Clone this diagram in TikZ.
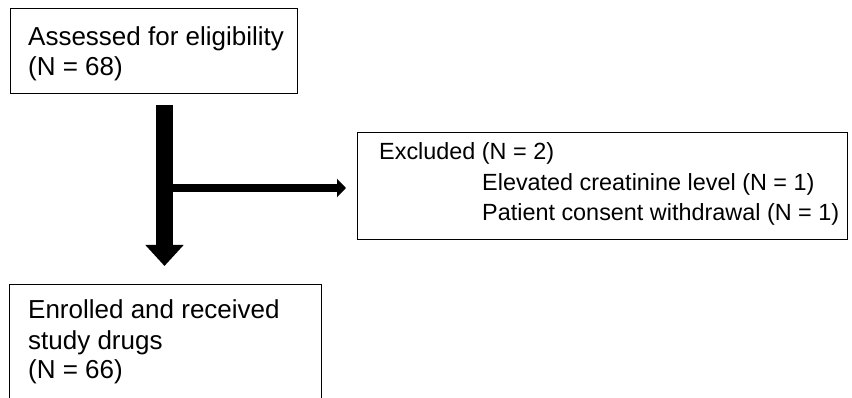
\documentclass[tikz,border=0pt]{standalone}
\usepackage{fontspec}
\setmainfont{Liberation Sans}
\usetikzlibrary{arrows.meta}
\tikzset{
  box/.style={draw=black, line width=1.2pt, inner sep=0pt, anchor=north west},
  txt/.style={anchor=base west, inner sep=0pt, font=\fontsize{26}{30}\selectfont},
  txts/.style={anchor=base west, inner sep=0pt, font=\fontsize{23.4}{28}\selectfont},
  bigarrow/.style={line width=17.5pt, -{Triangle[width=37pt,length=21pt]}},
  sidearrow/.style={line width=7.5pt, -{Triangle[width=18pt,length=9pt]}}
}
\begin{document}
\begin{tikzpicture}[x=1pt,y=-1pt]
\useasboundingbox (0,0) rectangle (852,398);
\clip (0,0) rectangle (852,398);
% boxes
\node[box, minimum width=287pt, minimum height=85pt] (assess) at (10,8) {};
\node[box, minimum width=490pt, minimum height=107pt] (excl) at (357,132) {};
\node[box, minimum width=312pt, minimum height=130pt] (enrol) at (9,284) {};
% texts
\node[txt] (t1) at (28,46) {Assessed for eligibility};
\node[txt] (t2) at (28,76) {(N = 68)};
\node[txts] (e1) at (379,160) {Excluded (N = 2)};
\node[txts] (e2) at (482,191) {Elevated creatinine level (N = 1)};
\node[txts] (e3) at (482,221) {Patient consent withdrawal (N = 1)};
\node[txt] (b1) at (28,319) {Enrolled and received};
\node[txt] (b2) at (28,349) {study drugs};
\node[txt] (b3) at (28,378) {(N = 66)};
% arrows
\coordinate (bartop) at (164.5,105);
\coordinate (bartip) at (164.5,266);
\coordinate (branch) at (172,188);
\coordinate (sidetip) at (346,188);
\draw[bigarrow] (bartop) -- (bartip);
\draw[sidearrow] (branch) -- (sidetip);
\end{tikzpicture}
\end{document}
